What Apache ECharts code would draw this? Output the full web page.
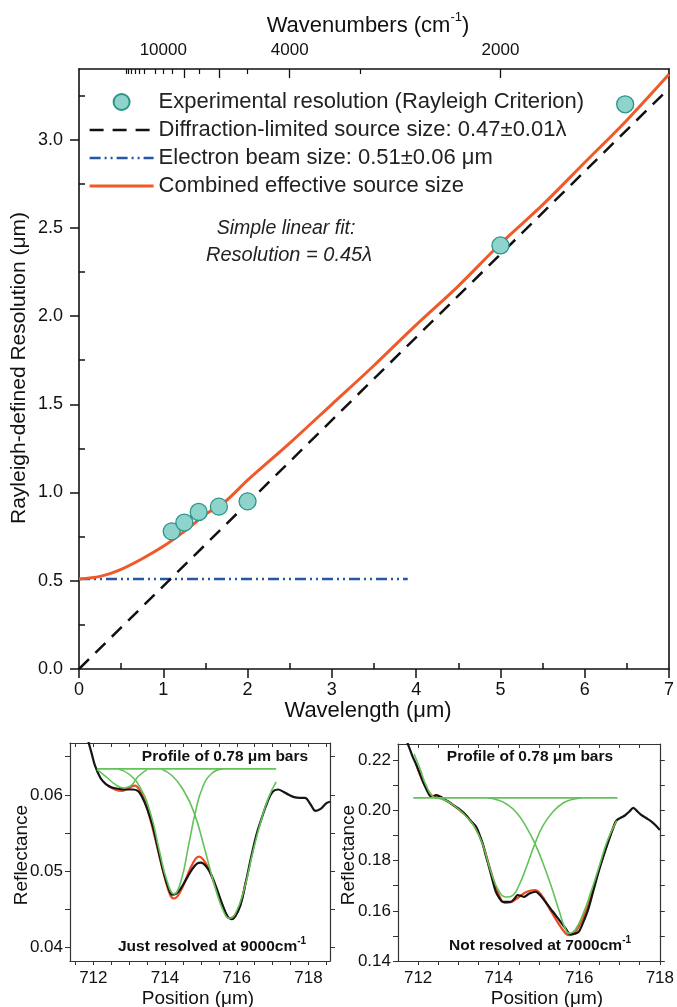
<!DOCTYPE html>
<html><head><meta charset="utf-8">
<script src="https://cdn.jsdelivr.net/npm/echarts@6/dist/echarts.min.js"></script>
<style>html,body{margin:0;padding:0;background:#fff}#c{width:677px;height:1007px}</style>
</head><body><div id="c"></div>
<script>
// ---------------- main chart data ----------------
const expLambda = [1.10, 1.25, 1.42, 1.66, 2.00, 5.00, 6.48];
const expRes    = [0.78, 0.83, 0.89, 0.92, 0.95, 2.40, 3.20];
const diffLambda = [0, 7];
const diffRes    = [0, 3.29];
const beamLambda = [0, 3.9];
const beamRes    = [0.51, 0.51];
const combLambda = [0, 0.25, 0.5, 0.75, 1.0, 1.25, 1.5, 1.75, 2.0, 2.5, 3.0, 3.5, 4.0, 4.5, 5.0, 5.5, 6.0, 6.5, 7.0];
const combRes    = [0.51, 0.525, 0.565, 0.625, 0.695, 0.78, 0.875, 0.955, 1.07, 1.28, 1.50, 1.72, 1.95, 2.17, 2.41, 2.63, 2.87, 3.11, 3.37];
const xTickLabels = [0, 1, 2, 3, 4, 5, 6, 7];
const xMinorTicks = [0.5, 1.5, 2.5, 3.5, 4.5, 5.5, 6.5];
const yTickLabels = [0, 0.5, 1.0, 1.5, 2.0, 2.5, 3.0];
const yMinorTicks = [0.25, 0.75, 1.25, 1.75, 2.25, 2.75, 3.25];
const wnLabels = [10000, 4000, 2000];
const wnLongTicks = [8000, 6000, 4000, 2000];
const wnShortTicks = [18000, 17000, 16000, 15000, 14000, 13000, 11000, 10000, 9000, 7000, 5000, 3000];

// ---------------- bottom-left (9000 cm-1) ----------------
const blackL = [[711.85,0.0672],[711.95,0.0655],[712.05,0.0638],[712.2,0.0622],[712.35,0.0614],[712.5,0.0610],[712.7,0.0608],[712.9,0.0607],[713.1,0.0607],[713.25,0.0605],[713.35,0.0598],[713.5,0.0582],[713.65,0.0560],[713.8,0.0530],[713.95,0.0500],[714.1,0.0477],[714.2,0.0469],[714.3,0.0470],[714.45,0.0478],[714.6,0.0490],[714.75,0.0502],[714.9,0.0510],[715.0,0.0511],[715.15,0.0506],[715.3,0.0494],[715.45,0.0476],[715.6,0.0456],[715.75,0.0440],[715.85,0.0437],[715.95,0.0440],[716.1,0.0455],[716.25,0.0485],[716.4,0.0518],[716.55,0.0548],[716.7,0.0570],[716.85,0.0590],[717.0,0.0604],[717.15,0.0607],[717.3,0.0604],[717.45,0.0600],[717.6,0.0597],[717.75,0.0596],[717.9,0.0596],[718.05,0.0588],[718.2,0.0579],[718.35,0.0582],[718.5,0.0589],[718.6,0.0591]];
const redL = [[712.4,0.0612],[712.6,0.0607],[712.8,0.0605],[713.0,0.0609],[713.15,0.0612],[713.3,0.0606],[713.45,0.0590],[713.6,0.0566],[713.8,0.0528],[714.0,0.0490],[714.15,0.0468],[714.25,0.0464],[714.35,0.0467],[714.5,0.0480],[714.7,0.0503],[714.85,0.0516],[714.95,0.0519],[715.05,0.0516],[715.2,0.0505],[715.4,0.0480],[715.6,0.0455],[715.8,0.0438],[715.95,0.0442],[716.1,0.0456],[716.25,0.0486]];
const baseL = [[712.1,0.0634],[717.1,0.0634]];
const gauss0L = [[712.1,0.0633],[712.35,0.0624],[712.6,0.0614],[712.85,0.0609],[713.05,0.0612],[713.25,0.0624],[713.5,0.0633]];
const gauss1L = [[712.7,0.0634],[713.0,0.0627],[713.3,0.0610],[713.6,0.0575],[713.85,0.0525],[714.05,0.0488],[714.25,0.0470],[714.45,0.0488],[714.65,0.0532],[714.85,0.0578],[715.05,0.0610],[715.3,0.0628],[715.6,0.0634]];
const gauss2L = [[713.9,0.0634],[714.2,0.0625],[714.5,0.0607],[714.8,0.0578],[715.1,0.0530],[715.4,0.0478],[715.65,0.0445],[715.8,0.0438],[715.95,0.0443],[716.2,0.0475],[716.45,0.0525],[716.7,0.0570],[716.9,0.0598],[717.1,0.0617]];
const xLabelsB = [712, 714, 716, 718];
const xTicksL = [711.5,712,712.5,713,713.5,714,714.5,715,715.5,716,716.5,717,717.5,718,718.5];
const yLabelsL = [0.04, 0.05, 0.06];
const yTicksL = [0.04,0.045,0.05,0.055,0.06,0.065];

// ---------------- bottom-right (7000 cm-1) ----------------
const blackR = [[711.7,0.2285],[711.75,0.2263],[711.85,0.2220],[711.96,0.2180],[712.06,0.2140],[712.16,0.2100],[712.25,0.2070],[712.33,0.2054],[712.45,0.2061],[712.57,0.2054],[712.68,0.2042],[712.78,0.2032],[712.9,0.2018],[713.03,0.2004],[713.19,0.1981],[713.31,0.1957],[713.44,0.1935],[713.52,0.1905],[713.6,0.1869],[713.68,0.1820],[713.77,0.1769],[713.85,0.1720],[713.93,0.1676],[714.02,0.1650],[714.1,0.1636],[714.3,0.1636],[714.4,0.1650],[714.47,0.1663],[714.55,0.1660],[714.63,0.1656],[714.75,0.1668],[714.85,0.1674],[714.92,0.1676],[715.04,0.1660],[715.16,0.1636],[715.28,0.1610],[715.41,0.1583],[715.54,0.1555],[715.66,0.1530],[715.78,0.1506],[715.9,0.1509],[715.99,0.1517],[716.1,0.1555],[716.23,0.1610],[716.35,0.1680],[716.48,0.1756],[716.6,0.1818],[716.72,0.1875],[716.83,0.1925],[716.93,0.1961],[717.04,0.1972],[717.14,0.1981],[717.24,0.1995],[717.34,0.2010],[717.45,0.1995],[717.55,0.1981],[717.68,0.1968],[717.8,0.1955],[717.9,0.1940],[718.0,0.1922]];
const redR = [[711.95,0.2185],[712.15,0.2105],[712.35,0.2058],[712.55,0.2050],[712.8,0.2030],[713.0,0.2005],[713.2,0.1978],[713.4,0.1938],[713.6,0.1868],[713.8,0.1760],[714.0,0.1665],[714.15,0.1632],[714.3,0.1634],[714.5,0.1655],[714.7,0.1676],[714.9,0.1683],[715.05,0.1665],[715.25,0.1612],[715.45,0.1558],[715.65,0.1512],[715.75,0.1503],[715.9,0.1515],[716.1,0.1575],[716.3,0.1665],[716.5,0.1770],[716.7,0.1870],[716.9,0.1955]];
const baseR = [[711.88,0.205],[716.95,0.205]];
const gaussAR = [[711.9,0.2225],[712.05,0.2165],[712.2,0.2100],[712.4,0.2052],[712.6,0.2045],[712.8,0.2030],[713.0,0.2005],[713.2,0.1975],[713.4,0.1935],[713.6,0.1865],[713.8,0.1760],[714.0,0.1680],[714.2,0.1655],[714.35,0.1662],[714.5,0.1700],[714.7,0.1780],[714.9,0.1868],[715.1,0.1940],[715.35,0.1995],[715.6,0.2030],[715.85,0.2045],[716.06,0.2050]];
const gaussBR = [[713.72,0.2050],[713.95,0.2043],[714.2,0.2025],[714.45,0.1990],[714.7,0.1930],[714.9,0.1868],[715.1,0.1790],[715.3,0.1700],[715.5,0.1600],[715.65,0.1530],[715.75,0.1510],[715.9,0.1525],[716.1,0.1590],[716.3,0.1680],[716.5,0.1780],[716.7,0.1880],[716.93,0.1960]];
const xTicksR = [712,712.5,713,713.5,714,714.5,715,715.5,716,716.5,717,717.5,718];
const yLabelsR = [0.14, 0.16, 0.18, 0.20, 0.22];
const yTicksR = [0.14,0.15,0.16,0.17,0.18,0.19,0.20,0.21,0.22];

// ---------------- helpers ----------------
const FONT = '"Liberation Sans", Arial, sans-serif';
const zip = (a, b) => a.map((v, i) => [v, b[i]]);
const measureCtx = document.createElement('canvas').getContext('2d');
function tw(text, font) { measureCtx.font = font; return measureCtx.measureText(text).width; }

function supText(cx, cy, parts, size, weight, supSize) {
  const fMain = weight + ' ' + size + 'px ' + FONT;
  const fSup = weight + ' ' + supSize + 'px ' + FONT;
  let total = 0;
  parts.forEach(p => total += tw(p[0], p[1] ? fSup : fMain));
  let x = cx - total / 2;
  const els = [];
  parts.forEach(p => {
    const f = p[1] ? fSup : fMain;
    els.push({ type: 'text', z: 100, style: { text: p[0], x: x, y: p[1] ? cy - size * 0.38 : cy, font: f, fill: '#111', textAlign: 'left', textVerticalAlign: 'middle' } });
    x += tw(p[0], f);
  });
  return els;
}

const axisLineStyle = { color: '#111', width: 1.6 };
function hiddenAxis(extra) {
  return Object.assign({ type: 'value', splitLine: { show: false }, axisLabel: { show: false }, axisTick: { show: false }, axisLine: { show: false, onZero: false } }, extra);
}
function line(ls) { return Object.assign({ onZero: false }, ls); }

const graphics = [].concat(
  supText(368, 26, [['Wavenumbers (cm', false], ['-1', true], [')', false]], 22, 'normal', 13),
  supText(225, 757, [['Profile of 0.78 \u03bcm bars', false]], 15.5, 'bold', 10),
  supText(212, 947, [['Just resolved at 9000cm', false], ['-1', true]], 15.5, 'bold', 10),
  supText(530, 757, [['Profile of 0.78 \u03bcm bars', false]], 15.5, 'bold', 10),
  supText(540, 946, [['Not resolved at 7000cm', false], ['-1', true]], 15.5, 'bold', 10),
  [
    { type: 'text', z: 100, style: { text: 'Simple linear fit:', x: 286, y: 229, font: 'italic 19.5px ' + FONT, fill: '#222', textAlign: 'center', textVerticalAlign: 'middle' } },
    { type: 'text', z: 100, style: { text: 'Resolution = 0.45\u03bb', x: 289, y: 255, font: 'italic 20px ' + FONT, fill: '#222', textAlign: 'center', textVerticalAlign: 'middle' } },
    { type: 'text', z: 100, style: { text: 'Wavelength (\u03bcm)', x: 368, y: 711, font: '22px ' + FONT, fill: '#111', textAlign: 'center', textVerticalAlign: 'middle' } },
    { type: 'text', z: 100, rotation: Math.PI / 2, x: 19, y: 368, style: { text: 'Rayleigh-defined Resolution (\u03bcm)', x: 0, y: 0, font: '21px ' + FONT, fill: '#111', textAlign: 'center', textVerticalAlign: 'middle' } },
    { type: 'text', z: 100, style: { text: 'Position (\u03bcm)', x: 198, y: 999, font: '19px ' + FONT, fill: '#111', textAlign: 'center', textVerticalAlign: 'middle' } },
    { type: 'text', z: 100, style: { text: 'Position (\u03bcm)', x: 547, y: 999, font: '19px ' + FONT, fill: '#111', textAlign: 'center', textVerticalAlign: 'middle' } },
    { type: 'text', z: 100, rotation: Math.PI / 2, x: 22, y: 855, style: { text: 'Reflectance', x: 0, y: 0, font: '19px ' + FONT, fill: '#111', textAlign: 'center', textVerticalAlign: 'middle' } },
    { type: 'text', z: 100, rotation: Math.PI / 2, x: 349, y: 855, style: { text: 'Reflectance', x: 0, y: 0, font: '19px ' + FONT, fill: '#111', textAlign: 'center', textVerticalAlign: 'middle' } }
  ]
);

const GREEN = '#63c25a';
const legendNames = ['Experimental resolution (Rayleigh Criterion)', 'Diffraction-limited source size: 0.47\u00b10.01\u03bb', 'Electron beam size: 0.51\u00b10.06 \u03bcm', 'Combined effective source size'];
const noSymbol = { opacity: 0, color: 'rgba(0,0,0,0)', borderWidth: 0 };
const option = {
  animation: false,
  backgroundColor: '#fff',
  textStyle: { fontFamily: FONT },
  grid: [
    { left: 79, top: 69, width: 594, height: 600 },
    { left: 70, top: 743, width: 260, height: 218 },
    { left: 398, top: 744, width: 265, height: 217 }
  ],
  xAxis: [
    { type: 'value', gridIndex: 0, position: 'bottom', min: 0, max: 7, splitLine: { show: false },
      axisLine: line({ lineStyle: axisLineStyle }),
      axisTick: { customValues: xTickLabels, length: 9, lineStyle: { color: '#111', width: 1.5 } },
      axisLabel: { customValues: xTickLabels, color: '#111', fontSize: 18, margin: 12, fontFamily: FONT } },
    hiddenAxis({ gridIndex: 0, position: 'bottom', min: 0, max: 7,
      axisTick: { show: true, inside: true, customValues: xMinorTicks, length: 6, lineStyle: { color: '#111', width: 1.5 } } }),
    { type: 'value', gridIndex: 0, position: 'top', min: 0, max: 7, splitLine: { show: false },
      axisLine: line({ lineStyle: axisLineStyle }),
      axisTick: { inside: true, customValues: wnLongTicks.map(v => 1e4 / v), length: 9, lineStyle: { color: '#111', width: 1.3 } },
      axisLabel: { customValues: wnLabels.map(v => 1e4 / v), formatter: v => String(Math.round(1e4 / v)), color: '#111', fontSize: 17, margin: 10, fontFamily: FONT } },
    hiddenAxis({ gridIndex: 0, position: 'top', min: 0, max: 7,
      axisTick: { show: true, inside: true, customValues: wnShortTicks.map(v => 1e4 / v), length: 5, lineStyle: { color: '#111', width: 1.2 } } }),
    { type: 'value', gridIndex: 1, position: 'bottom', min: 711.35, max: 718.6, splitLine: { show: false },
      axisLine: line({ lineStyle: { color: '#333', width: 1.2 } }),
      axisTick: { customValues: xTicksL, length: 4, lineStyle: { color: '#333' } },
      axisLabel: { customValues: xLabelsB, color: '#111', fontSize: 17, margin: 9, fontFamily: FONT } },
    hiddenAxis({ gridIndex: 1, position: 'top', min: 711.35, max: 718.6,
      axisLine: { show: true, onZero: false, lineStyle: { color: '#333', width: 1.2 } },
      axisTick: { show: true, inside: true, customValues: xTicksL, length: 4, lineStyle: { color: '#333' } } }),
    { type: 'value', gridIndex: 2, position: 'bottom', min: 711.5, max: 718, splitLine: { show: false },
      axisLine: line({ lineStyle: { color: '#333', width: 1.2 } }),
      axisTick: { customValues: xTicksR, length: 4, lineStyle: { color: '#333' } },
      axisLabel: { customValues: xLabelsB, color: '#111', fontSize: 17, margin: 9, fontFamily: FONT } },
    hiddenAxis({ gridIndex: 2, position: 'top', min: 711.5, max: 718,
      axisLine: { show: true, onZero: false, lineStyle: { color: '#333', width: 1.2 } },
      axisTick: { show: true, inside: true, customValues: xTicksR, length: 4, lineStyle: { color: '#333' } } })
  ],
  yAxis: [
    { type: 'value', gridIndex: 0, position: 'left', min: 0, max: 3.4, splitLine: { show: false },
      axisLine: line({ lineStyle: axisLineStyle }),
      axisTick: { customValues: yTickLabels, length: 9, lineStyle: { color: '#111', width: 1.5 } },
      axisLabel: { customValues: yTickLabels, formatter: v => v.toFixed(1), color: '#111', fontSize: 18, margin: 16, fontFamily: FONT } },
    hiddenAxis({ gridIndex: 0, position: 'left', min: 0, max: 3.4,
      axisTick: { show: true, inside: true, customValues: yMinorTicks, length: 6, lineStyle: { color: '#111', width: 1.5 } } }),
    hiddenAxis({ gridIndex: 0, position: 'right', min: 0, max: 3.4, axisLine: { show: true, onZero: false, lineStyle: axisLineStyle } }),
    { type: 'value', gridIndex: 1, position: 'left', min: 0.0382, max: 0.0668, splitLine: { show: false },
      axisLine: line({ lineStyle: { color: '#333', width: 1.2 } }),
      axisTick: { customValues: yTicksL, length: 5, lineStyle: { color: '#333' } },
      axisLabel: { customValues: yLabelsL, formatter: v => v.toFixed(2), color: '#111', fontSize: 17, margin: 7, fontFamily: FONT } },
    hiddenAxis({ gridIndex: 1, position: 'right', min: 0.0382, max: 0.0668,
      axisLine: { show: true, onZero: false, lineStyle: { color: '#333', width: 1.2 } },
      axisTick: { show: true, customValues: yTicksL, length: 5, lineStyle: { color: '#333' } } }),
    { type: 'value', gridIndex: 2, position: 'left', min: 0.14, max: 0.2265, splitLine: { show: false },
      axisLine: line({ lineStyle: { color: '#333', width: 1.2 } }),
      axisTick: { customValues: yTicksR, length: 5, lineStyle: { color: '#333' } },
      axisLabel: { customValues: yLabelsR, formatter: v => v.toFixed(2), color: '#111', fontSize: 17, margin: 7, fontFamily: FONT } },
    hiddenAxis({ gridIndex: 2, position: 'right', min: 0.14, max: 0.2265,
      axisLine: { show: true, onZero: false, lineStyle: { color: '#333', width: 1.2 } },
      axisTick: { show: true, customValues: yTicksR, length: 5, lineStyle: { color: '#333' } } })
  ],
  legend: {
    orient: 'vertical', left: 83, top: 86, itemWidth: 64, itemHeight: 16, itemGap: 6,
    textStyle: { fontSize: 22, color: '#222', fontFamily: FONT },
    data: [
      { name: legendNames[0] },
      { name: legendNames[1], itemStyle: noSymbol, lineStyle: { width: 2.6 } },
      { name: legendNames[2], itemStyle: noSymbol, lineStyle: { width: 2.6 } },
      { name: legendNames[3], itemStyle: noSymbol, lineStyle: { width: 3.2 } }
    ]
  },
  series: [
    { name: legendNames[3], type: 'line', xAxisIndex: 0, yAxisIndex: 0, data: zip(combLambda, combRes), smooth: 0.3, symbol: 'none', lineStyle: { color: '#f05a2a', width: 3 }, itemStyle: { color: '#f05a2a' }, z: 3 },
    { name: legendNames[1], type: 'line', xAxisIndex: 0, yAxisIndex: 0, data: zip(diffLambda, diffRes), symbol: 'none', lineStyle: { color: '#111', width: 2.5, type: [14, 9] }, itemStyle: { color: '#111' }, z: 4 },
    { name: legendNames[2], type: 'line', xAxisIndex: 0, yAxisIndex: 0, data: zip(beamLambda, beamRes), symbol: 'none', lineStyle: { color: '#2457a8', width: 2.5, type: [11, 4, 2, 4, 2, 4] }, itemStyle: { color: '#2457a8' }, z: 2 },
    { name: legendNames[0], type: 'scatter', xAxisIndex: 0, yAxisIndex: 0, data: zip(expLambda, expRes), symbol: 'circle', symbolSize: 17, itemStyle: { color: '#8ed4cc', borderColor: '#2c958a', borderWidth: 1.3, opacity: 1 }, z: 5 },

    { type: 'line', xAxisIndex: 4, yAxisIndex: 3, data: redL, smooth: 0.4, symbol: 'none', lineStyle: { color: '#ee4a24', width: 2.2 }, z: 2 },
    { type: 'line', xAxisIndex: 4, yAxisIndex: 3, data: blackL, smooth: 0.4, symbol: 'none', lineStyle: { color: '#151515', width: 2.2 }, z: 3 },
    { type: 'line', xAxisIndex: 4, yAxisIndex: 3, data: baseL, symbol: 'none', lineStyle: { color: GREEN, width: 1.8 }, z: 4 },
    { type: 'line', xAxisIndex: 4, yAxisIndex: 3, data: gauss0L, smooth: 0.5, symbol: 'none', lineStyle: { color: GREEN, width: 1.6 }, z: 4 },
    { type: 'line', xAxisIndex: 4, yAxisIndex: 3, data: gauss1L, smooth: 0.5, symbol: 'none', lineStyle: { color: GREEN, width: 1.6 }, z: 4 },
    { type: 'line', xAxisIndex: 4, yAxisIndex: 3, data: gauss2L, smooth: 0.5, symbol: 'none', lineStyle: { color: GREEN, width: 1.6 }, z: 4 },

    { type: 'line', xAxisIndex: 6, yAxisIndex: 5, data: redR, smooth: 0.4, symbol: 'none', lineStyle: { color: '#ee4a24', width: 2.2 }, z: 2 },
    { type: 'line', xAxisIndex: 6, yAxisIndex: 5, data: blackR, smooth: 0.3, symbol: 'none', lineStyle: { color: '#151515', width: 2.2 }, z: 3 },
    { type: 'line', xAxisIndex: 6, yAxisIndex: 5, data: baseR, symbol: 'none', lineStyle: { color: GREEN, width: 1.8 }, z: 4 },
    { type: 'line', xAxisIndex: 6, yAxisIndex: 5, data: gaussAR, smooth: 0.5, symbol: 'none', lineStyle: { color: GREEN, width: 1.6 }, z: 4 },
    { type: 'line', xAxisIndex: 6, yAxisIndex: 5, data: gaussBR, smooth: 0.5, symbol: 'none', lineStyle: { color: GREEN, width: 1.6 }, z: 4 }
  ],
  graphic: graphics
};
const chart = echarts.init(document.getElementById('c'), null, { renderer: 'canvas' });
chart.setOption(option);
</script></body></html>
